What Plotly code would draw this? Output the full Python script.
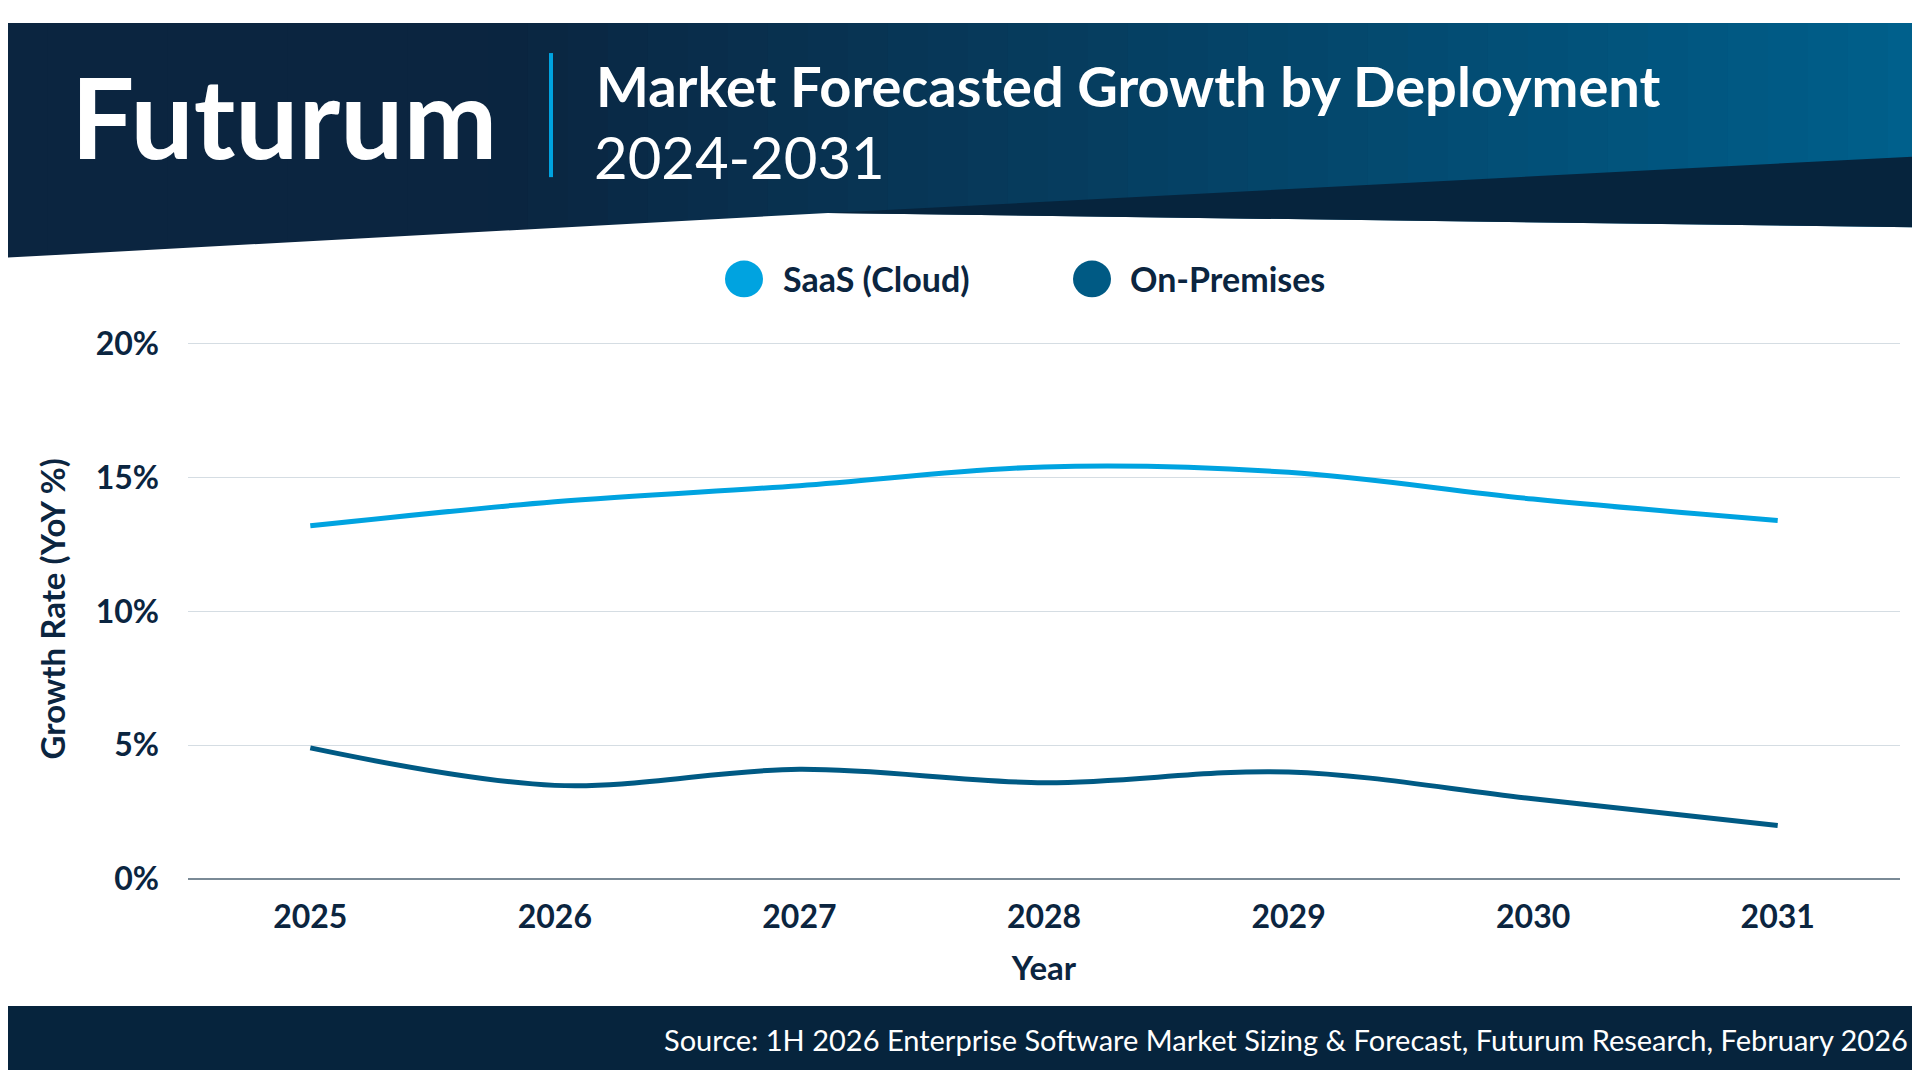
import plotly.graph_objects as go

years = ["2025", "2026", "2027", "2028", "2029", "2030", "2031"]
saas = [13.2, 14.1, 14.7, 15.4, 15.2, 14.2, 13.4]
onprem = [4.9, 3.5, 4.1, 3.6, 4.0, 3.0, 2.0]
tick_vals = [0, 5, 10, 15, 20]
tick_text = ["0%", "5%", "10%", "15%", "20%"]
series_names = ["SaaS (Cloud)", "On-Premises"]

W, H = 1920, 1080
FONT = "Lato"
SAAS_C, PREM_C = "#00a3e0", "#005a84"
TEXT_C = "#0b2540"


def px(x, y):
    return x / W, 1 - y / H


def path(points):
    return "M " + " L ".join("%f,%f" % px(x, y) for x, y in points) + " Z"


def shp(points, color):
    return dict(type="path", path=path(points), xref="paper", yref="paper",
                fillcolor=color, line=dict(width=0), layer="below")


fig = go.Figure()
fig.add_trace(go.Scatter(x=years, y=saas, name=series_names[0], mode="lines",
                         line=dict(color=SAAS_C, width=5, shape="spline")))
fig.add_trace(go.Scatter(x=years, y=onprem, name=series_names[1], mode="lines",
                         line=dict(color=PREM_C, width=5, shape="spline")))

shapes = []
n = 48
c0, c1 = (11, 37, 64), (0, 96, 140)
for i in range(n):
    t = i / (n - 1)
    t2 = max(0, (t - 0.25) / 0.75)
    c = tuple(int(a + (b - a) * t2) for a, b in zip(c0, c1))
    x0, x1 = W * i / n, W * (i + 1) / n + 1
    shapes.append(shp([(x0, 0), (x1, 0), (x1, 245), (x0, 245)], "rgb(%d,%d,%d)" % c))
shapes.append(shp([(0, 242), (820, 196), (1920, 211), (1920, 250), (0, 250)], "white"))
shapes.append(shp([(820, 196), (1920, 137), (1920, 211)], "#06243d"))
shapes.append(shp([(0, 1014), (1920, 1014), (1920, 1080), (0, 1080)], "#06243d"))
shapes.append(shp([(541, 31), (545, 31), (545, 159), (541, 159)], SAAS_C))

# custom legend: big circles + labels
legend_pos = [(736, 773), (1084, 1120)]
for (cx, tx), name, c in zip(legend_pos, series_names, [SAAS_C, PREM_C]):
    x0, y0 = px(cx - 19, 283)
    x1, y1 = px(cx + 19, 245)
    shapes.append(dict(type="circle", xref="paper", yref="paper", x0=x0, x1=x1, y0=y0, y1=y1,
                       fillcolor=c, line=dict(width=0)))
    fx, fy = px(tx, 264)
    fig.add_annotation(text="<b>%s</b>" % name, x=fx, y=fy, xref="paper", yref="paper",
                       xanchor="left", yanchor="middle", showarrow=False,
                       font=dict(size=34, color=TEXT_C, family=FONT))

top_px = 331 - 0.2 * (883 - 331) / 20
fig.update_layout(
    width=W, height=H, margin=dict(l=0, r=0, t=0, b=0),
    paper_bgcolor="white", plot_bgcolor="rgba(0,0,0,0)",
    font=dict(family=FONT, color=TEXT_C),
    shapes=shapes, showlegend=False,
    xaxis=dict(domain=[180 / W, 1892 / W], showgrid=False, showline=False,
               tickfont=dict(size=32, family=FONT, weight="bold", color=TEXT_C),
               ticklabelstandoff=16,
               title=dict(text="<b>Year</b>", font=dict(size=33), standoff=22),
               ticks="", range=[-0.5, 6.5]),
    yaxis=dict(domain=[(H - 883) / H, (H - top_px) / H], range=[0, 20.2],
               tickvals=tick_vals, ticktext=tick_text, ticks="",
               tickfont=dict(size=32, family=FONT, weight="bold", color=TEXT_C),
               ticklabelstandoff=28,
               gridcolor="#d5dde3", zeroline=True, zerolinecolor="#7a8a96",
               zerolinewidth=1.5,
               title=dict(text="<b>Growth Rate (YoY %)</b>", font=dict(size=33), standoff=20)),
)

anns = [
    dict(text="<b>Futurum</b>", x=61, y=95, size=112, xanchor="left"),
    dict(text="<b>Market Forecasted Growth by Deployment</b>", x=586, y=64, size=56, xanchor="left"),
    dict(text="2024-2031", x=584, y=138, size=58, xanchor="left"),
    dict(text="Source: 1H 2026 Enterprise Software Market Sizing & Forecast, Futurum Research, February 2026",
         x=1902, y=1049, size=29, xanchor="right"),
]
for a in anns:
    fx, fy = px(a["x"], a["y"])
    fig.add_annotation(text=a["text"], x=fx, y=fy, xref="paper", yref="paper",
                       xanchor=a["xanchor"], yanchor="middle", showarrow=False,
                       font=dict(size=a["size"], color="white", family=FONT))

fig.write_html("out.html")
